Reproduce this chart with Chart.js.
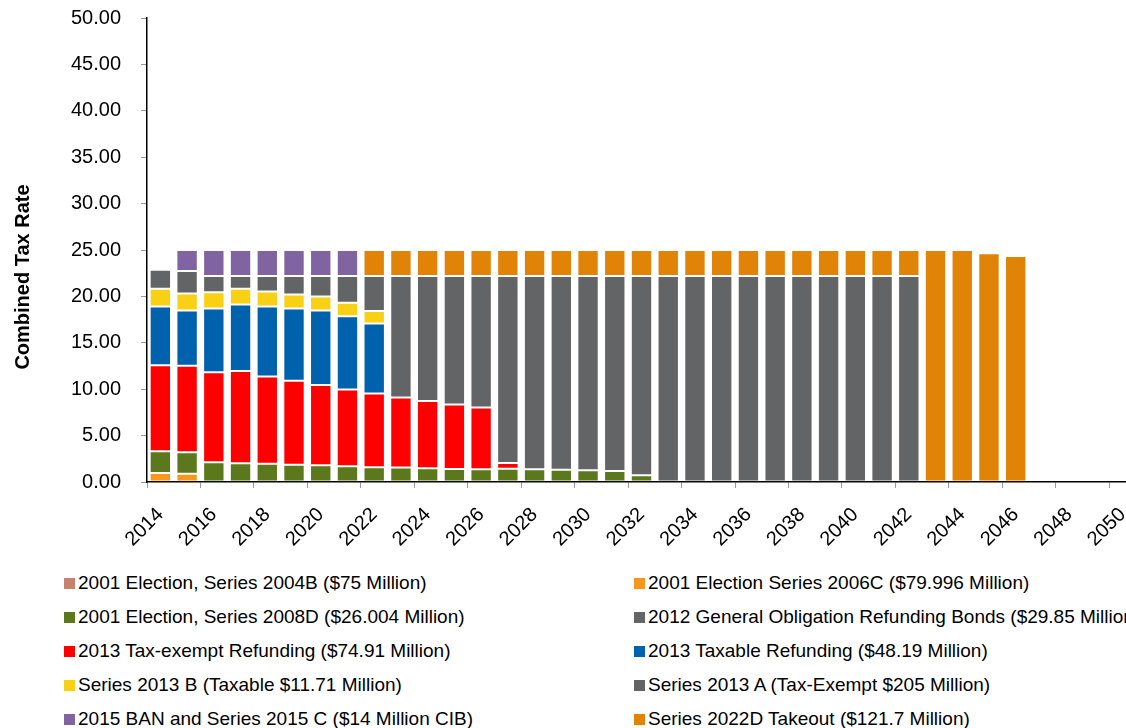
<!DOCTYPE html>
<html><head><meta charset="utf-8">
<script src="https://cdn.jsdelivr.net/npm/chart.js@4.4.1/dist/chart.umd.min.js"></script>
<style>
html,body{margin:0;padding:0;background:#fff;overflow:hidden;width:1126px;height:728px;}
#wrap{position:relative;width:1126px;height:728px;overflow:hidden;}
#c{position:absolute;left:0;top:0;width:1150px;height:560px;}
.li{position:absolute;height:22px;display:flex;align-items:center;white-space:nowrap;font-family:'Liberation Sans',Arial,sans-serif;font-size:19px;color:#000;}
.li .box{display:inline-block;width:11px;height:11px;margin-right:3px;flex:none;}
</style></head><body>
<div id="wrap"><canvas id="c" width="1150" height="560"></canvas><div id="legend"></div></div>
<script>
const years = [2014,2015,2016,2017,2018,2019,2020,2021,2022,2023,2024,2025,2026,2027,2028,2029,2030,2031,2032,2033,2034,2035,2036,2037,2038,2039,2040,2041,2042,2043,2044,2045,2046,2047,2048,2049,2050];

const seriesNames = [
  '2001 Election, Series 2004B ($75 Million)',
  '2001 Election Series 2006C ($79.996 Million)',
  '2001 Election, Series 2008D ($26.004 Million)',
  '2012 General Obligation Refunding Bonds ($29.85 Million)',
  '2013 Tax-exempt Refunding ($74.91 Million)',
  '2013 Taxable Refunding ($48.19 Million)',
  'Series 2013 B (Taxable $11.71 Million)',
  'Series 2013 A (Tax-Exempt $205 Million)',
  '2015 BAN and Series 2015 C ($14 Million CIB)',
  'Series 2022D Takeout ($121.7 Million)'
];

const s2004B = [];
const s2006C = [0.97,0.90];
const s2008D = [2.34,2.31,2.13,2.02,1.98,1.87,1.80,1.69,1.59,1.55,1.48,1.40,1.37,1.44,1.37,1.33,1.26,1.19,0.72];
const s2012GO = [];
const s2013TaxExempt = [9.26,9.33,9.69,9.94,9.40,9.04,8.65,8.29,7.96,7.56,7.24,6.96,6.66,0.61];
const s2013Taxable = [6.34,5.94,6.88,7.17,7.53,7.79,8.03,7.89,7.52];
const s2013B = [1.91,1.84,1.76,1.69,1.62,1.51,1.51,1.44,1.37];
const s2013A = [2.05,2.41,1.73,1.37,1.66,1.98,2.20,2.88,3.75,13.08,13.47,13.83,14.16,20.14,20.82,20.86,20.93,21.00,21.47,22.19,22.19,22.19,22.19,22.19,22.19,22.19,22.19,22.19,22.19];
const s2015BAN = [null,2.27,2.81,2.81,2.81,2.81,2.81,2.81];
const s2022D = [null,null,null,null,null,null,null,null,2.81,2.81,2.81,2.81,2.81,2.81,2.81,2.81,2.81,2.81,2.81,2.81,2.81,2.81,2.81,2.81,2.81,2.81,2.81,2.81,2.81,25.00,25.00,24.64,24.35];

const yTicks = [0,5,10,15,20,25,30,35,40,45,50];
const yTitle = 'Combined Tax Rate';

const seriesValues = [s2004B,s2006C,s2008D,s2012GO,s2013TaxExempt,s2013Taxable,s2013B,s2013A,s2015BAN,s2022D];
const seriesColors = ['#C9806C','#F7981D','#5C781D','#646567','#FF0000','#0061AC','#F9D114','#636466','#8064A2','#E08307'];

const datasets = seriesNames.map((name,i)=>({
  label: name,
  data: seriesValues[i],
  backgroundColor: seriesColors[i],
  borderColor: 'rgba(255,255,255,0.22)',
  borderWidth: 1,
  borderSkipped: false,
  categoryPercentage: 0.8,
  barPercentage: 1.0,
  stack: 's'
}));

const FONT = "'Liberation Sans', Arial, sans-serif";

const yTitlePlugin = {
  id: 'yTitle',
  afterDraw(chart){
    const ctx = chart.ctx;
    ctx.save();
    ctx.translate(23, 277);
    ctx.rotate(-Math.PI/2);
    ctx.font = 'bold 20px ' + FONT;
    ctx.fillStyle = '#000';
    ctx.textAlign = 'center';
    ctx.textBaseline = 'middle';
    ctx.fillText(yTitle, 0, 0);
    ctx.restore();
  }
};

const chart = new Chart(document.getElementById('c'), {
  type: 'bar',
  data: { labels: years, datasets },
  plugins: [yTitlePlugin],
  options: {
    responsive: false,
    animation: false,
    devicePixelRatio: 1,
    layout: { padding: { left: 0, right: 14, top: 18, bottom: 0 } },
    plugins: { legend: { display: false }, tooltip: { enabled: false } },
    scales: {
      x: {
        stacked: true,
        offset: true,
        afterFit(scale){ scale.height = 78; scale.paddingLeft = 0; scale.paddingRight = 0; },
        border: { display: true, color: '#000', width: 1.5 },
        grid: {
          offset: true,
          drawOnChartArea: false,
          drawTicks: true,
          tickLength: 6,
          color: (ctx) => (ctx.index !== undefined && ctx.index % 2 === 0) ? '#9a9a9a' : 'rgba(0,0,0,0)'
        },
        ticks: {
          autoSkip: false,
          minRotation: 45,
          maxRotation: 45,
          padding: 15,
          color: '#000',
          font: { family: FONT, size: 20 },
          callback: function(value, index){ return index % 2 === 0 ? String(years[index]) : ''; }
        }
      },
      y: {
        stacked: true,
        min: 0,
        max: 50,
        afterFit(scale){ scale.width = 147; scale.paddingTop = 0; scale.paddingBottom = 0; },
        afterBuildTicks(scale){ scale.ticks = yTicks.map(v=>({value:v})); },
        border: { display: true, color: '#000', width: 1.5 },
        grid: {
          drawOnChartArea: false,
          drawTicks: true,
          tickLength: 6,
          color: '#9a9a9a'
        },
        ticks: {
          padding: 20,
          color: '#000',
          font: { family: FONT, size: 20 },
          callback: (v) => Number(v).toFixed(2)
        }
      }
    }
  }
});

// HTML legend built from the chart's datasets (two columns, row-major)
const legend = document.getElementById('legend');
const colX = [64, 634];
const rowY = [583, 617, 651, 685, 719];
chart.data.datasets.forEach((ds,i)=>{
  const el = document.createElement('div');
  el.className = 'li';
  el.style.left = colX[i%2] + 'px';
  el.style.top = (rowY[Math.floor(i/2)] - 11) + 'px';
  const b = document.createElement('span');
  b.className = 'box';
  b.style.background = ds.backgroundColor;
  const t = document.createElement('span');
  t.textContent = ds.label;
  el.appendChild(b); el.appendChild(t);
  legend.appendChild(el);
});
</script>
</body></html>
